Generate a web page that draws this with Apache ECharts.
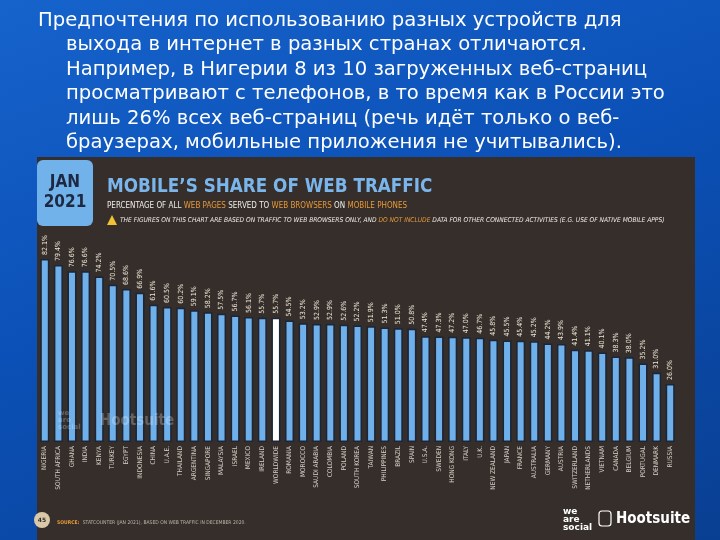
<!DOCTYPE html>
<html>
<head>
<meta charset="utf-8">
<script src="https://cdn.jsdelivr.net/npm/echarts@6/dist/echarts.min.js"></script>
<style>
  html, body {margin: 0; padding: 0;}
  body {background: linear-gradient(160deg, #1663cc 0%, #0b50b6 45%, #093f92 100%);}
  #main {width: 720px; height: 540px;}
</style>
</head>
<body>
<div id="main"></div>
<script>
const countries = ['NIGERIA', 'SOUTH AFRICA', 'GHANA', 'INDIA', 'KENYA', 'TURKEY', 'EGYPT', 'INDONESIA', 'CHINA', 'U.A.E.',
  'THAILAND', 'ARGENTINA', 'SINGAPORE', 'MALAYSIA', 'ISRAEL', 'MEXICO', 'IRELAND', 'WORLDWIDE', 'ROMANIA', 'MOROCCO',
  'SAUDI ARABIA', 'COLOMBIA', 'POLAND', 'SOUTH KOREA', 'TAIWAN', 'PHILIPPINES', 'BRAZIL', 'SPAIN', 'U.S.A.', 'SWEDEN',
  'HONG KONG', 'ITALY', 'U.K.', 'NEW ZEALAND', 'JAPAN', 'FRANCE', 'AUSTRALIA', 'GERMANY', 'AUSTRIA', 'SWITZERLAND',
  'NETHERLANDS', 'VIETNAM', 'CANADA', 'BELGIUM', 'PORTUGAL', 'DENMARK', 'RUSSIA']
const shares = [82.1, 79.4, 76.6, 76.6, 74.2, 70.5, 68.6, 66.9, 61.6, 60.5,
  60.2, 59.1, 58.2, 57.5, 56.7, 56.1, 55.7, 55.7, 54.5, 53.2,
  52.9, 52.9, 52.6, 52.2, 51.9, 51.3, 51.0, 50.8, 47.4, 47.3,
  47.2, 47.0, 46.7, 45.8, 45.5, 45.4, 45.2, 44.2, 43.9, 41.4,
  41.1, 40.1, 38.3, 38.0, 35.2, 31.0, 26.0]
const highlight = 'WORLDWIDE'

const textLines = [
  'Предпочтения по использованию разных устройств для',
  'выхода в интернет в разных странах отличаются.',
  'Например, в Нигерии 8 из 10 загруженных веб-страниц',
  'просматривают с телефонов, в то время как в России это',
  'лишь 26% всех веб-страниц (речь идёт только о веб-',
  'браузерах, мобильные приложения не учитывались).'
]

const myChart = echarts.init(document.getElementById('main'))

const slideText = textLines.map((line, i) => ({
  type: 'text',
  left: i === 0 ? 38 : 66,
  top: 11 + i * 24.4,
  style: {text: line, fill: '#ffffff', font: '19.6px "DejaVu Sans"'}
}))

myChart.setOption({
  backgroundColor: 'transparent',
  graphic: [
    ...slideText,
    {type: 'rect', z: -10, shape: {x: 37, y: 157, width: 658, height: 383}, style: {fill: '#352e2a'}},
    {type: 'rect', shape: {x: 37, y: 160, width: 56, height: 66, r: 6}, style: {fill: '#72b2ea'}},
    {type: 'text', x: 65, y: 193, style: {text: 'JAN\n2021', fill: '#1d2942', font: 'bold 17px "DejaVu Sans Condensed"', align: 'center', verticalAlign: 'middle', lineHeight: 20}},
    {type: 'text', left: 107, top: 178, style: {text: 'MOBILE\u2019S SHARE OF WEB TRAFFIC', fill: '#7ab6ec', font: 'bold 18.7px "DejaVu Sans Condensed"'}},
    {type: 'text', left: 107, top: 202, style: {
      text: '{w|PERCENTAGE OF ALL }{o|WEB PAGES}{w| SERVED TO }{o|WEB BROWSERS}{w| ON }{o|MOBILE PHONES}',
      rich: {
        w: {fill: '#f0ece6', font: '8px "DejaVu Sans Condensed"'},
        o: {fill: '#e8993a', font: '8px "DejaVu Sans Condensed"'}
      }
    }},
    {type: 'polygon', shape: {points: [[112, 215], [107, 225], [117, 225]]}, style: {fill: '#f1c232'}},
    {type: 'text', left: 120, top: 217, style: {
      text: '{w|THE FIGURES ON THIS CHART ARE BASED ON TRAFFIC TO WEB BROWSERS ONLY, AND }{o|DO NOT INCLUDE}{w| DATA FOR OTHER CONNECTED ACTIVITIES (E.G. USE OF NATIVE MOBILE APPS)}',
      rich: {
        w: {fill: '#f0ece6', font: 'italic 6.6px "DejaVu Sans Condensed"'},
        o: {fill: '#e8993a', font: 'italic 6.6px "DejaVu Sans Condensed"'}
      }
    }},
    {type: 'text', z: 100, left: 58, top: 410, style: {text: 'we\nare\nsocial', fill: 'rgba(255,255,255,0.25)', font: 'bold 7px "DejaVu Sans"', lineHeight: 7}},
    {type: 'text', z: 100, left: 100, top: 414, style: {text: 'Hootsuite', fill: 'rgba(255,255,255,0.25)', font: 'bold 15px "DejaVu Sans Condensed"'}},
    {type: 'circle', shape: {cx: 42, cy: 520, r: 8}, style: {fill: '#d9c9a9'}},
    {type: 'text', x: 42, y: 520, style: {text: '45', fill: '#352e2a', font: 'bold 6px "DejaVu Sans"', align: 'center', verticalAlign: 'middle'}},
    {type: 'text', left: 57, top: 517, style: {
      text: '{o|SOURCE:} {w|STATCOUNTER (JAN 2021), BASED ON WEB TRAFFIC IN DECEMBER 2020.}',
      rich: {
        o: {fill: '#e8993a', font: 'bold 5px "DejaVu Sans Condensed"'},
        w: {fill: '#bdb4a8', font: '5px "DejaVu Sans Condensed"'}
      }
    }},
    {type: 'text', left: 563, top: 507, style: {text: 'we\nare\nsocial', fill: '#ffffff', font: 'bold 9px "DejaVu Sans"', lineHeight: 8}},
    {type: 'rect', shape: {x: 599, y: 511, width: 12, height: 15, r: 3}, style: {fill: 'none', stroke: '#ffffff', lineWidth: 1.2}},
    {type: 'text', left: 616, top: 512, style: {text: 'Hootsuite', fill: '#ffffff', font: 'bold 15px "DejaVu Sans Condensed"'}}
  ],
  grid: {left: 38, right: 43, top: 219, bottom: 98, containLabel: false},
  xAxis: {
    type: 'category',
    data: countries,
    axisLine: {show: false},
    axisTick: {show: false},
    axisLabel: {
      interval: 0,
      rotate: 90,
      margin: 4,
      color: '#d6d0c8',
      fontSize: 6.5,
      fontFamily: 'DejaVu Sans Condensed'
    }
  },
  yAxis: {type: 'value', min: 0, max: 100, show: false},
  series: [{
    type: 'bar',
    barWidth: 9,
    data: shares.map((v, i) => ({
      value: v,
      itemStyle: {color: countries[i] === highlight ? '#ffffff' : '#6fb0ea'}
    })),
    itemStyle: {borderColor: '#1b2638', borderWidth: 1.5},
    label: {
      show: true,
      position: 'top',
      rotate: 90,
      align: 'left',
      verticalAlign: 'middle',
      distance: 4,
      formatter: p => p.value.toFixed(1) + '%',
      color: '#ece5d6',
      fontSize: 7,
      fontFamily: 'DejaVu Sans Condensed'
    }
  }]
})
</script>
</body>
</html>
